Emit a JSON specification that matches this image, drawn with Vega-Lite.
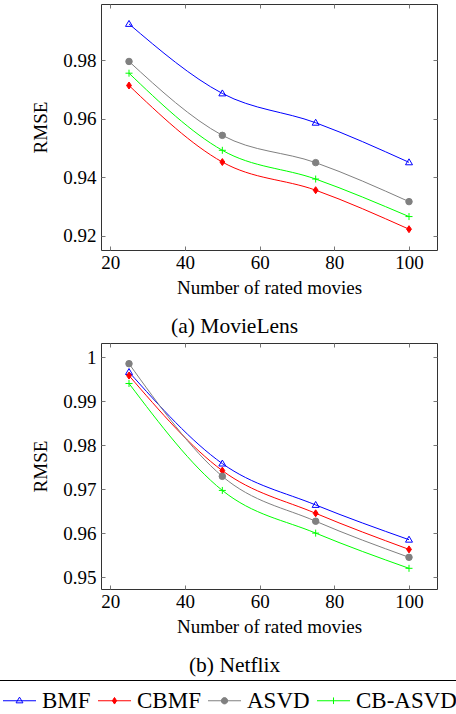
{
  "$schema": "https://vega.github.io/schema/vega-lite/v6.json",
  "padding": {"left": -2, "top": 3, "right": 0, "bottom": 0},
  "background": "white",
  "data": {
    "values": [
      {"dataset": "MovieLens", "method": "BMF", "n": 25, "rmse": 0.9923},
      {"dataset": "MovieLens", "method": "BMF", "n": 50, "rmse": 0.9686},
      {"dataset": "MovieLens", "method": "BMF", "n": 75, "rmse": 0.9586},
      {"dataset": "MovieLens", "method": "BMF", "n": 100, "rmse": 0.9451},
      {"dataset": "MovieLens", "method": "CBMF", "n": 25, "rmse": 0.9713},
      {"dataset": "MovieLens", "method": "CBMF", "n": 50, "rmse": 0.9452},
      {"dataset": "MovieLens", "method": "CBMF", "n": 75, "rmse": 0.9356},
      {"dataset": "MovieLens", "method": "CBMF", "n": 100, "rmse": 0.9223},
      {"dataset": "MovieLens", "method": "ASVD", "n": 25, "rmse": 0.9795},
      {"dataset": "MovieLens", "method": "ASVD", "n": 50, "rmse": 0.9543},
      {"dataset": "MovieLens", "method": "ASVD", "n": 75, "rmse": 0.945},
      {"dataset": "MovieLens", "method": "ASVD", "n": 100, "rmse": 0.9317},
      {"dataset": "MovieLens", "method": "CB-ASVD", "n": 25, "rmse": 0.9755},
      {"dataset": "MovieLens", "method": "CB-ASVD", "n": 50, "rmse": 0.9492},
      {"dataset": "MovieLens", "method": "CB-ASVD", "n": 75, "rmse": 0.9394},
      {"dataset": "MovieLens", "method": "CB-ASVD", "n": 100, "rmse": 0.9266},
      {"dataset": "Netflix", "method": "BMF", "n": 25, "rmse": 0.9966},
      {"dataset": "Netflix", "method": "BMF", "n": 50, "rmse": 0.9758},
      {"dataset": "Netflix", "method": "BMF", "n": 75, "rmse": 0.9664},
      {"dataset": "Netflix", "method": "BMF", "n": 100, "rmse": 0.9585},
      {"dataset": "Netflix", "method": "CBMF", "n": 25, "rmse": 0.9958},
      {"dataset": "Netflix", "method": "CBMF", "n": 50, "rmse": 0.9742},
      {"dataset": "Netflix", "method": "CBMF", "n": 75, "rmse": 0.9645},
      {"dataset": "Netflix", "method": "CBMF", "n": 100, "rmse": 0.9563},
      {"dataset": "Netflix", "method": "ASVD", "n": 25, "rmse": 0.9985},
      {"dataset": "Netflix", "method": "ASVD", "n": 50, "rmse": 0.9729},
      {"dataset": "Netflix", "method": "ASVD", "n": 75, "rmse": 0.9627},
      {"dataset": "Netflix", "method": "ASVD", "n": 100, "rmse": 0.9545},
      {"dataset": "Netflix", "method": "CB-ASVD", "n": 25, "rmse": 0.994},
      {"dataset": "Netflix", "method": "CB-ASVD", "n": 50, "rmse": 0.9697},
      {"dataset": "Netflix", "method": "CB-ASVD", "n": 75, "rmse": 0.96},
      {"dataset": "Netflix", "method": "CB-ASVD", "n": 100, "rmse": 0.952}
    ]
  },
  "spacing": 4,
  "vconcat": [
    {
      "title": {"text": "(a) MovieLens", "orient": "bottom", "frame": "bounds", "offset": 19, "fontSize": 21.5, "font": "Liberation Serif", "fontWeight": "normal", "color": "black"},
      "width": 336,
      "height": 246,
      "transform": [{"filter": "datum.dataset === 'MovieLens'"}],
      "layer": [
        {
          "mark": {"type": "line", "interpolate": "monotone", "strokeWidth": 1},
          "encoding": {
            "x": {"field": "n", "type": "quantitative", "scale": {"domain": [17.5, 107.5], "nice": false, "zero": false},
                  "axis": {"orient": "bottom", "values": [20, 40, 60, 80, 100], "title": "Number of rated movies"}},
            "y": {"field": "rmse", "type": "quantitative", "scale": {"domain": [0.9152, 0.9991], "nice": false, "zero": false},
                  "axis": {"orient": "left", "values": [0.92, 0.94, 0.96, 0.98], "format": "~g", "title": "RMSE"}},
            "color": {"field": "method", "type": "nominal",
                      "scale": {"domain": ["BMF", "CBMF", "ASVD", "CB-ASVD"], "range": ["#0000ff", "#ff0000", "#808080", "#00ff00"]},
                      "legend": {
                        "title": null, "orient": "none", "legendX": -102, "legendY": 676, "direction": "horizontal",
                        "symbolSize": 900, "symbolStrokeWidth": 1, "symbolType": "stroke",
                        "labelFont": "Liberation Serif", "labelFontSize": 23, "labelColor": "black",
                        "labelOffset": 7, "columnPadding": 5, "padding": 5, "strokeColor": "black",
                        "encode": {"symbols": {"update": {
                          "shape": {"signal": "datum.value === 'BMF' ? 'M-1.1,0H1.1M-0.23,0.14L0.23,0.14L0,-0.24Z' : datum.value === 'CBMF' ? 'M-1.1,0H1.1M0,-0.22L0.14,0L0,0.22L-0.14,0Z' : datum.value === 'ASVD' ? 'M-1.1,0H1.1M0.21,0A0.21,0.21,0,1,1,-0.21,0A0.21,0.21,0,1,1,0.21,0Z' : 'M-1.1,0H1.1M0,-0.22V0.22'"},
                          "fill": {"signal": "datum.value === 'CBMF' ? '#ff0000' : datum.value === 'ASVD' ? '#808080' : 'transparent'"},
                          "stroke": {"signal": "scale('color', datum.value)"},
                          "strokeWidth": {"value": 1},
                          "size": {"value": 900},
                          "opacity": {"value": 1}
                        }}}
                      }}
          }
        },
        {
          "transform": [{"filter": "datum.method === 'BMF'"}],
          "mark": {"type": "point", "shape": "M0,-1L1,0.7L-1,0.7Z", "filled": false, "stroke": "#0000ff", "fill": "transparent", "size": 49, "strokeWidth": 1, "opacity": 1},
          "encoding": {
            "x": {"field": "n", "type": "quantitative", "scale": {"domain": [17.5, 107.5], "nice": false, "zero": false},
                  "axis": {"orient": "top", "values": [20, 40, 60, 80, 100], "labels": false, "title": null}},
            "y": {"field": "rmse", "type": "quantitative", "scale": {"domain": [0.9152, 0.9991], "nice": false, "zero": false},
                  "axis": {"orient": "right", "values": [0.92, 0.94, 0.96, 0.98], "labels": false, "title": null}}
          }
        },
        {
          "transform": [{"filter": "datum.method === 'CBMF'"}],
          "mark": {"type": "point", "shape": "M0,-1L0.7,0L0,1L-0.7,0Z", "filled": true, "fill": "#ff0000", "stroke": "#ff0000", "size": 49, "strokeWidth": 1, "opacity": 1},
          "encoding": {
            "x": {"field": "n", "type": "quantitative", "axis": null},
            "y": {"field": "rmse", "type": "quantitative", "axis": null}
          }
        },
        {
          "transform": [{"filter": "datum.method === 'ASVD'"}],
          "mark": {"type": "point", "shape": "circle", "filled": true, "fill": "#808080", "stroke": "#808080", "size": 42, "strokeWidth": 1, "opacity": 1},
          "encoding": {
            "x": {"field": "n", "type": "quantitative", "axis": null},
            "y": {"field": "rmse", "type": "quantitative", "axis": null}
          }
        },
        {
          "transform": [{"filter": "datum.method === 'CB-ASVD'"}],
          "mark": {"type": "point", "shape": "M-1,0H1M0,-1V1", "filled": false, "stroke": "#00ff00", "fill": "transparent", "size": 49, "strokeWidth": 1, "opacity": 1},
          "encoding": {
            "x": {"field": "n", "type": "quantitative", "axis": null},
            "y": {"field": "rmse", "type": "quantitative", "axis": null}
          }
        }
      ],
      "resolve": {"axis": {"x": "independent", "y": "independent"}}
    },
    {
      "title": {"text": "(b) Netflix", "orient": "bottom", "frame": "bounds", "offset": 19, "fontSize": 21.5, "font": "Liberation Serif", "fontWeight": "normal", "color": "black"},
      "width": 336,
      "height": 246,
      "transform": [{"filter": "datum.dataset === 'Netflix'"}],
      "layer": [
        {
          "mark": {"type": "line", "interpolate": "monotone", "strokeWidth": 1},
          "encoding": {
            "x": {"field": "n", "type": "quantitative", "scale": {"domain": [17.5, 107.5], "nice": false, "zero": false},
                  "axis": {"orient": "bottom", "values": [20, 40, 60, 80, 100], "title": "Number of rated movies"}},
            "y": {"field": "rmse", "type": "quantitative", "scale": {"domain": [0.9473, 1.0032], "nice": false, "zero": false},
                  "axis": {"orient": "left", "values": [0.95, 0.96, 0.97, 0.98, 0.99, 1], "format": "~g", "title": "RMSE"}},
            "color": {"field": "method", "type": "nominal",
                      "scale": {"domain": ["BMF", "CBMF", "ASVD", "CB-ASVD"], "range": ["#0000ff", "#ff0000", "#808080", "#00ff00"]}}
          }
        },
        {
          "transform": [{"filter": "datum.method === 'BMF'"}],
          "mark": {"type": "point", "shape": "M0,-1L1,0.7L-1,0.7Z", "filled": false, "stroke": "#0000ff", "fill": "transparent", "size": 49, "strokeWidth": 1, "opacity": 1},
          "encoding": {
            "x": {"field": "n", "type": "quantitative", "scale": {"domain": [17.5, 107.5], "nice": false, "zero": false},
                  "axis": {"orient": "top", "values": [20, 40, 60, 80, 100], "labels": false, "title": null}},
            "y": {"field": "rmse", "type": "quantitative", "scale": {"domain": [0.9473, 1.0032], "nice": false, "zero": false},
                  "axis": {"orient": "right", "values": [0.95, 0.96, 0.97, 0.98, 0.99, 1], "labels": false, "title": null}}
          }
        },
        {
          "transform": [{"filter": "datum.method === 'CBMF'"}],
          "mark": {"type": "point", "shape": "M0,-1L0.7,0L0,1L-0.7,0Z", "filled": true, "fill": "#ff0000", "stroke": "#ff0000", "size": 49, "strokeWidth": 1, "opacity": 1},
          "encoding": {
            "x": {"field": "n", "type": "quantitative", "axis": null},
            "y": {"field": "rmse", "type": "quantitative", "axis": null}
          }
        },
        {
          "transform": [{"filter": "datum.method === 'ASVD'"}],
          "mark": {"type": "point", "shape": "circle", "filled": true, "fill": "#808080", "stroke": "#808080", "size": 42, "strokeWidth": 1, "opacity": 1},
          "encoding": {
            "x": {"field": "n", "type": "quantitative", "axis": null},
            "y": {"field": "rmse", "type": "quantitative", "axis": null}
          }
        },
        {
          "transform": [{"filter": "datum.method === 'CB-ASVD'"}],
          "mark": {"type": "point", "shape": "M-1,0H1M0,-1V1", "filled": false, "stroke": "#00ff00", "fill": "transparent", "size": 49, "strokeWidth": 1, "opacity": 1},
          "encoding": {
            "x": {"field": "n", "type": "quantitative", "axis": null},
            "y": {"field": "rmse", "type": "quantitative", "axis": null}
          }
        }
      ],
      "resolve": {"axis": {"x": "independent", "y": "independent"}}
    }
  ],
  "resolve": {"scale": {"y": "independent"}},
  "config": {
    "font": "Liberation Serif",
    "view": {"stroke": "#333333", "strokeWidth": 1},
    "axis": {
      "labelFont": "Liberation Serif", "labelFontSize": 19, "labelColor": "black",
      "titleFont": "Liberation Serif", "titleFontSize": 19, "titleFontWeight": "normal", "titleColor": "black",
      "domain": false, "grid": false, "tickColor": "#777777", "tickWidth": 1, "tickSize": -4,
      "labelPadding": 9, "titlePadding": 12
    },
    "axisX": {"labelPadding": 7, "titlePadding": 6}
  }
}
